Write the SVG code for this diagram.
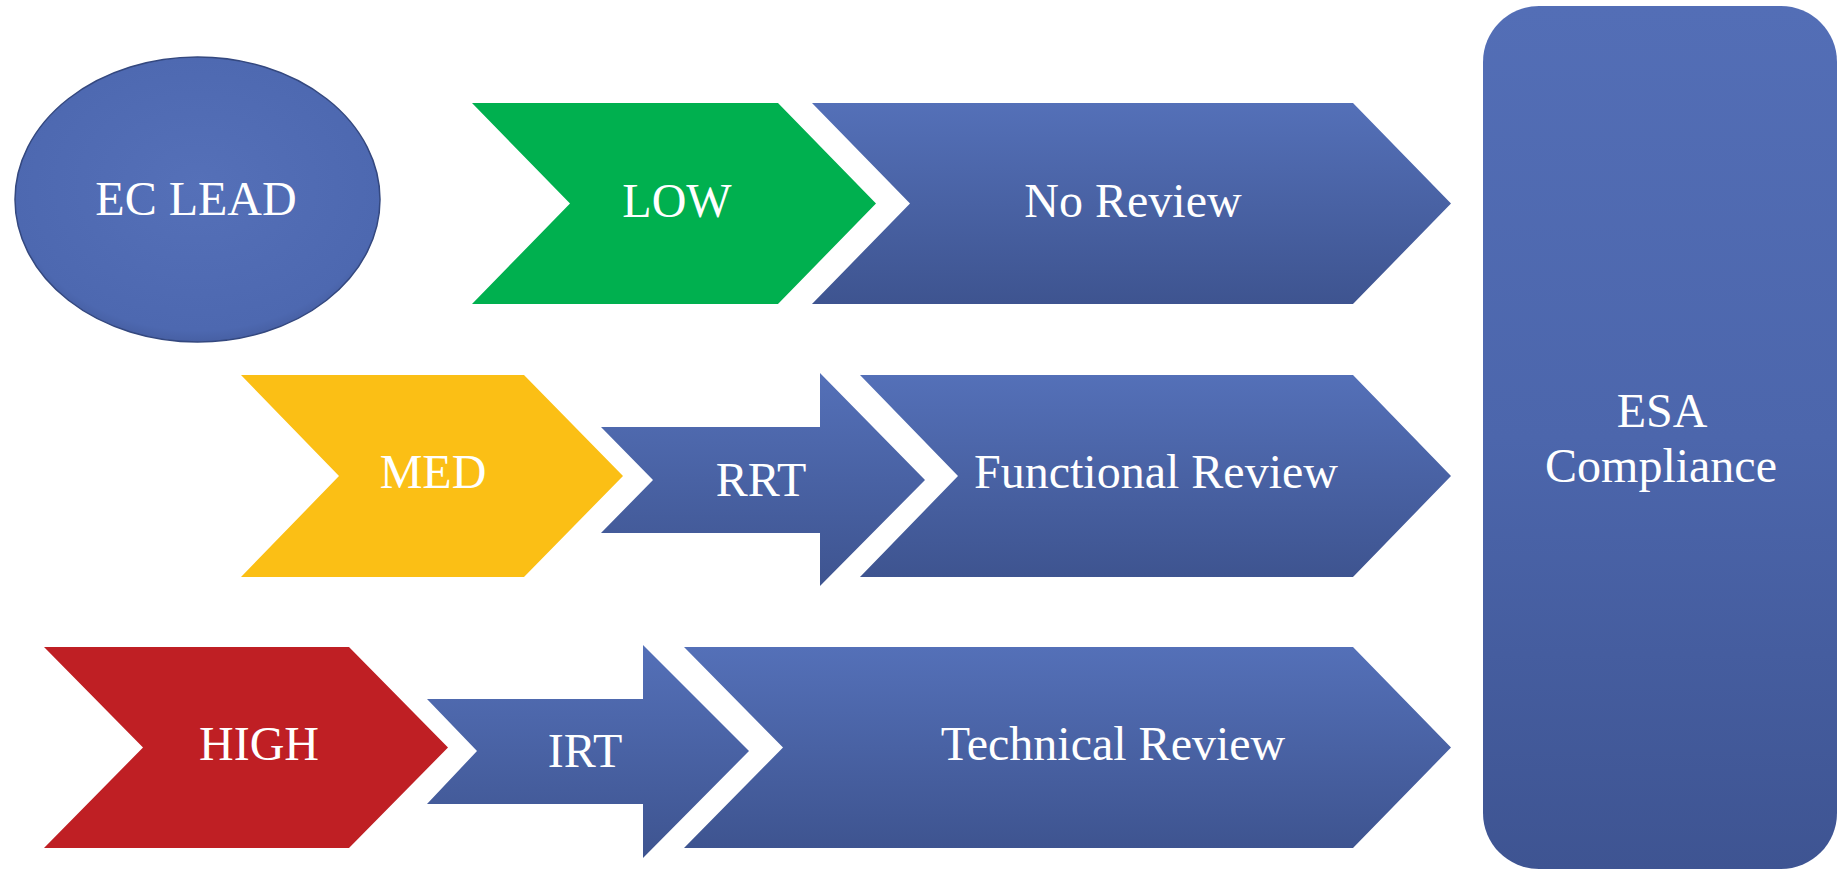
<svg xmlns="http://www.w3.org/2000/svg" width="1847" height="870" viewBox="0 0 1847 870">
<defs>
<linearGradient id="blue" x1="0" y1="0" x2="0" y2="1">
<stop offset="0" stop-color="#5470B8"/>
<stop offset="1" stop-color="#3E5490"/>
</linearGradient>
<linearGradient id="blueTall" x1="0" y1="0" x2="0" y2="1">
<stop offset="0" stop-color="#536EB6"/>
<stop offset="0.5" stop-color="#4C66AC"/>
<stop offset="1" stop-color="#3E5492"/>
</linearGradient>
<radialGradient id="ell" cx="0.5" cy="0.45" r="0.6">
<stop offset="0" stop-color="#5570B8"/>
<stop offset="0.85" stop-color="#4D68B0"/>
<stop offset="1" stop-color="#3F5594"/>
</radialGradient>
<style>
.lbl{font-family:"Liberation Serif","Times New Roman",serif;font-size:48px;fill:#FFFFFF;text-anchor:middle}
.b{fill:url(#blue)}
</style>
</defs>
<rect width="1847" height="870" fill="#FFFFFF"/>
<g id="connectors"/>
<g id="ec-lead">
<ellipse cx="197.5" cy="199.5" rx="182.5" ry="142.5" fill="url(#ell)" stroke="#34487F" stroke-width="1.5"/>
<text class="lbl" x="196" y="215">EC LEAD</text>
</g>
<g id="low">
<polygon points="472,103 778,103 876,203.5 778,304 472,304 570,203.5" fill="#00B04F"/>
<text class="lbl" x="677" y="217">LOW</text>
</g>
<g id="no-review">
<polygon class="b" points="812,103 1353,103 1451,203.5 1353,304 812,304 910,203.5"/>
<text class="lbl" x="1133" y="217">No Review</text>
</g>
<g id="med">
<polygon points="241,375 524,375 623,476 524,577 241,577 339,476" fill="#FBBF15"/>
<text class="lbl" x="433" y="488">MED</text>
</g>
<g id="rrt">
<polygon class="b" points="601,427 820,427 820,373 925,480 820,586 820,533 601,533 653,480"/>
<text class="lbl" x="761" y="496">RRT</text>
</g>
<g id="functional-review">
<polygon class="b" points="860,375 1353,375 1451,476 1353,577 860,577 958,476"/>
<text class="lbl" x="1156" y="488">Functional Review</text>
</g>
<g id="high">
<polygon points="44,647 349,647 448,747.5 349,848 44,848 143,747.5" fill="#BF1F24"/>
<text class="lbl" x="259" y="760">HIGH</text>
</g>
<g id="irt">
<polygon class="b" points="427,699 643,699 643,645 749,751 643,858 643,804 427,804 477,751"/>
<text class="lbl" x="585" y="767">IRT</text>
</g>
<g id="technical-review">
<polygon class="b" points="684,647 1353,647 1451,747.5 1353,848 684,848 783,747.5"/>
<text class="lbl" x="1113" y="760">Technical Review</text>
</g>
<g id="esa-compliance">
<rect x="1483" y="6" width="354" height="863" rx="56" ry="56" fill="url(#blueTall)"/>
<text class="lbl" x="1662" y="427">ESA</text>
<text class="lbl" x="1661" y="482">Compliance</text>
</g>
</svg>
